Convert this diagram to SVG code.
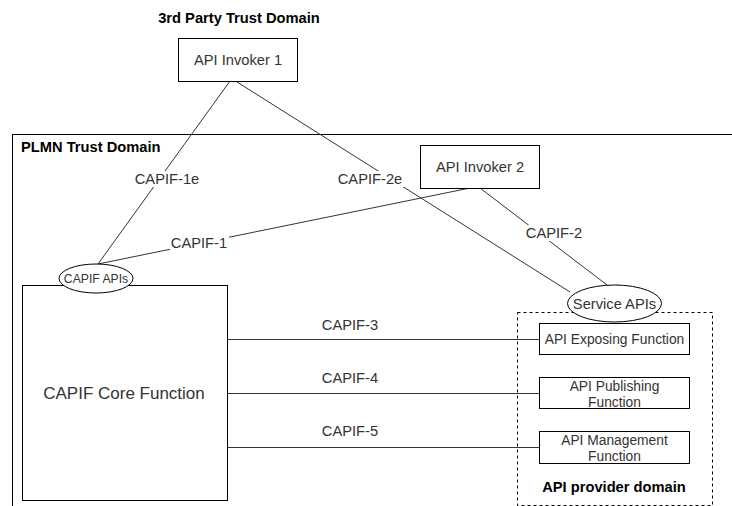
<svg xmlns="http://www.w3.org/2000/svg" width="732" height="506" viewBox="0 0 732 506">
<style>
  .box { fill: #ffffff; stroke: #000000; stroke-width: 1; }
  .dom { fill: none; stroke: #000000; stroke-width: 1; }
  .dash { fill: none; stroke: #000000; stroke-width: 1; stroke-dasharray: 3 3; }
  .conn { fill: none; stroke: #333333; stroke-width: 1; }
  .t { font-family: "Liberation Sans", Arial, sans-serif; font-size: 14.7px; fill: #333333; text-anchor: middle; dominant-baseline: central; }
  .s { font-size: 13.8px; }
  .xs { font-size: 12.2px; }
  .b { font-weight: bold; fill: #000000; }
  .lbl { fill: #ffffff; stroke: none; }
</style>
<rect width="732" height="506" fill="#ffffff"/>

<g id="third-party-domain">
  <text class="t b" x="239" y="17.5">3rd Party Trust Domain</text>
</g>

<g id="plmn-domain">
  <rect class="dom" x="12.5" y="134.5" width="740" height="400"/>
  <text class="t b" x="21" y="147" style="text-anchor:start">PLMN Trust Domain</text>
</g>

<g id="api-provider-domain">
  <rect class="dash" x="517.5" y="312.5" width="195" height="193"/>
  <text class="t b" x="614" y="487">API provider domain</text>
</g>

<g id="connectors">
  <line class="conn" x1="230" y1="81" x2="98" y2="264"/>
  <line class="conn" x1="237" y1="82" x2="570" y2="292"/>
  <line class="conn" x1="98" y1="264" x2="470" y2="188"/>
  <line class="conn" x1="480" y1="188" x2="607" y2="285"/>
  <line class="conn" x1="227" y1="339.5" x2="539" y2="339.5"/>
  <line class="conn" x1="227" y1="393.5" x2="539" y2="393.5"/>
  <line class="conn" x1="227" y1="447.5" x2="539" y2="447.5"/>
  <rect class="lbl" x="133" y="171" width="68" height="16"/>
  <text class="t" x="167" y="179">CAPIF-1e</text>
  <rect class="lbl" x="336" y="171" width="69" height="16"/>
  <text class="t" x="370" y="179">CAPIF-2e</text>
  <rect class="lbl" x="170" y="235" width="59" height="16"/>
  <text class="t" x="199" y="243">CAPIF-1</text>
  <rect class="lbl" x="524" y="225" width="60" height="16"/>
  <text class="t" x="554" y="233">CAPIF-2</text>
  <text class="t" x="350" y="325">CAPIF-3</text>
  <text class="t" x="350" y="378">CAPIF-4</text>
  <text class="t" x="350" y="431">CAPIF-5</text>
</g>

<g id="api-invoker-1">
  <rect class="box" x="178.5" y="38.5" width="119" height="43"/>
  <text class="t" x="238" y="60">API Invoker 1</text>
</g>

<g id="api-invoker-2">
  <rect class="box" x="420.5" y="145.5" width="119" height="43"/>
  <text class="t" x="480" y="167">API Invoker 2</text>
</g>

<g id="capif-core-function">
  <rect class="box" x="22.5" y="285.5" width="205" height="215"/>
  <text class="t" x="124" y="393" style="font-size:17px">CAPIF Core Function</text>
</g>

<g id="capif-apis">
  <ellipse class="box" cx="96" cy="278.5" rx="37" ry="14.5"/>
  <text class="t xs" x="96" y="279">CAPIF APIs</text>
</g>

<g id="service-apis">
  <ellipse class="box" cx="614.5" cy="303.5" rx="47" ry="18.5"/>
  <text class="t" x="614.5" y="304">Service APIs</text>
</g>

<g id="api-exposing-function">
  <rect class="box" x="539.5" y="323.5" width="150" height="31"/>
  <text class="t s" x="614.5" y="339">API Exposing Function</text>
</g>

<g id="api-publishing-function">
  <rect class="box" x="539.5" y="377.5" width="150" height="31"/>
  <text class="t s" x="614.5" y="386">API Publishing</text>
  <text class="t s" x="614.5" y="402">Function</text>
</g>

<g id="api-management-function">
  <rect class="box" x="539.5" y="431.5" width="150" height="32"/>
  <text class="t s" x="614.5" y="440">API Management</text>
  <text class="t s" x="614.5" y="456">Function</text>
</g>
</svg>
